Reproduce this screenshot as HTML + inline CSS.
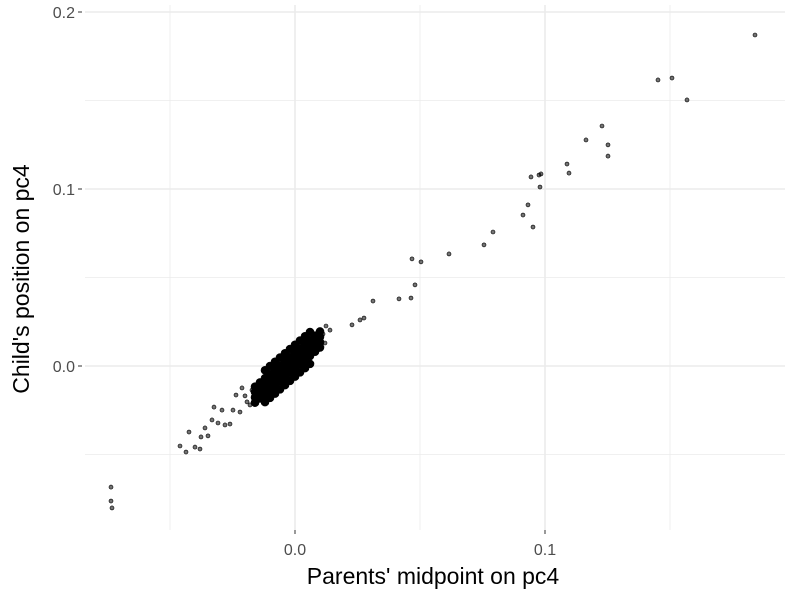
<!DOCTYPE html>
<html><head><meta charset="utf-8"><style>
body{margin:0;background:#fff}
svg{display:block;font-family:"Liberation Sans",sans-serif}
</style></head><body>
<svg id="chart" width="800" height="600" viewBox="0 0 800 600">
<g id="grid"></g>
<g id="axes"></g>
<g id="pts"></g>
<text x="433" y="584" font-size="23" text-anchor="middle" fill="#000">Parents' midpoint on pc4</text>
<text transform="translate(29,279) rotate(-90)" font-size="23" text-anchor="middle" fill="#000">Child's position on pc4</text>
</svg>
<script>
const xMajor=[0,0.1];
const xMajorLabels=["0.0","0.1"];
const xMinor=[-0.05,0.05,0.15];
const yMajor=[0,0.1,0.2];
const yMajorLabels=["0.0","0.1","0.2"];
const yMinor=[-0.05,0.05,0.15];
const outX=[-0.0736,-0.0736,-0.0732,0.184,0.1452,0.1508,0.1568,0.1228,0.1164,0.1252,0.1252,0.1088,0.1096,0.0944,0.0976,0.0984,0.098,0.0932,0.0912,0.0952,0.0792,0.0756,0.0616,0.0468,0.0504,0.048,0.0464,0.0416,0.0312,0.0276,0.026,0.0228,0.0124,0.0112,0.014,0.01,0.012,0.0092,-0.046,-0.0436,-0.04,-0.038,-0.0424,-0.0376,-0.036,-0.0324,-0.0332,-0.028,-0.026,-0.0248,-0.022,-0.0192,-0.02,-0.0292,-0.0348,-0.0308,-0.018,-0.0236,-0.0212,-0.0172];
const outY=[-0.0684,-0.0763,-0.0802,0.187,0.1616,0.1627,0.1503,0.1356,0.1277,0.1249,0.1186,0.1141,0.109,0.1068,0.1079,0.1085,0.1011,0.091,0.0853,0.0785,0.0757,0.0684,0.0633,0.0605,0.0588,0.0458,0.0384,0.0379,0.0367,0.0271,0.026,0.0232,0.0226,0.0181,0.0203,0.0119,0.013,0.009,-0.0452,-0.0486,-0.0458,-0.0469,-0.0373,-0.0401,-0.035,-0.0232,-0.0305,-0.0333,-0.0328,-0.0249,-0.026,-0.0203,-0.0169,-0.0249,-0.0395,-0.0322,-0.022,-0.0164,-0.0124,-0.0136];
const coreX=[-0.016,-0.016,-0.016,-0.016,-0.014,-0.014,-0.014,-0.014,-0.012,-0.012,-0.012,-0.012,-0.010,-0.010,-0.010,-0.010,-0.008,-0.008,-0.008,-0.008,-0.006,-0.006,-0.006,-0.006,-0.004,-0.004,-0.004,-0.004,-0.002,-0.002,-0.002,-0.002,0,0,0,0,0.002,0.002,0.002,0.002,0.004,0.004,0.004,0.004,0.006,0.006,0.006,0.006,0.008,0.008,0.008,0.008,0.010,0.010,0.010,0.010,
-0.012,-0.012,-0.010,-0.010,-0.008,-0.008,-0.006,-0.006,-0.004,-0.004,-0.002,-0.002,0,0,0.002,0.002,0.004,0.004,0.006,0.006];
const coreY=[-0.0207,-0.0177,-0.0147,-0.0117,-0.0183,-0.0153,-0.0123,-0.0093,-0.0159,-0.0129,-0.0099,-0.0069,-0.0135,-0.0105,-0.0075,-0.0045,-0.0111,-0.0081,-0.0051,-0.0021,-0.0087,-0.0057,-0.0027,0.0003,-0.0063,-0.0033,-0.0003,0.0027,-0.0039,-0.0009,0.0021,0.0051,-0.0015,0.0015,0.0045,0.0075,0.0009,0.0039,0.0069,0.0099,0.0033,0.0063,0.0093,0.0123,0.0057,0.0087,0.0117,0.0147,0.0081,0.0111,0.0141,0.0171,0.0105,0.0135,0.0165,0.0195,
-0.0204,-0.0024,-0.018,0,-0.0156,0.0024,-0.0132,0.0048,-0.0108,0.0072,-0.0084,0.0096,-0.006,0.012,-0.0036,0.0144,-0.0012,0.0168,0.0012,0.0192];
const sx=v=>295+v*2500, sy=v=>366-v*1770;
const L=85,R=785,T=5,B=530,NS="http://www.w3.org/2000/svg";
function mk(p,t,a){const e=document.createElementNS(NS,t);for(const k in a)e.setAttribute(k,a[k]);p.appendChild(e);return e;}
const g=document.getElementById('grid'),ax=document.getElementById('axes'),pts=document.getElementById('pts');
xMinor.forEach(v=>{const e=mk(g,'line',{x1:sx(v),x2:sx(v),y1:T,y2:B,stroke:'#ebebeb','stroke-width':0.8});

});
yMinor.forEach(v=>{const e=mk(g,'line',{x1:L,x2:R,y1:sy(v),y2:sy(v),stroke:'#ebebeb','stroke-width':0.8});

});
xMajor.forEach((v,i)=>{const e=mk(g,'line',{x1:sx(v),x2:sx(v),y1:T,y2:B,stroke:'#ebebeb','stroke-width':1.6});


const k=mk(ax,'line',{x1:sx(v),x2:sx(v),y1:B,y2:B+4,stroke:'#333','stroke-width':1});


const t=mk(ax,'text',{x:sx(v),y:555,'font-size':16,'text-anchor':'middle',fill:'#4d4d4d'});t.textContent=xMajorLabels[i];

});
yMajor.forEach((v,i)=>{const e=mk(g,'line',{x1:L,x2:R,y1:sy(v),y2:sy(v),stroke:'#ebebeb','stroke-width':1.6});


const k=mk(ax,'line',{x1:L-7,x2:L-3,y1:sy(v),y2:sy(v),stroke:'#333','stroke-width':1});


const t=mk(ax,'text',{x:L-10,y:sy(v)+6,'font-size':16,'text-anchor':'end',fill:'#4d4d4d'});t.textContent=yMajorLabels[i];

});
function dots(X,Y,r,name,fill){X.forEach((v,i)=>{const c=mk(pts,'circle',{cx:sx(v),cy:sy(Y[i]),r:r,fill:fill,stroke:'#000','stroke-width':0.6});

});}
dots(coreX,coreY,4,'core-point','#000');
dots(outX,outY,2,'point','rgba(0,0,0,0.55)');
</script>
</body></html>
